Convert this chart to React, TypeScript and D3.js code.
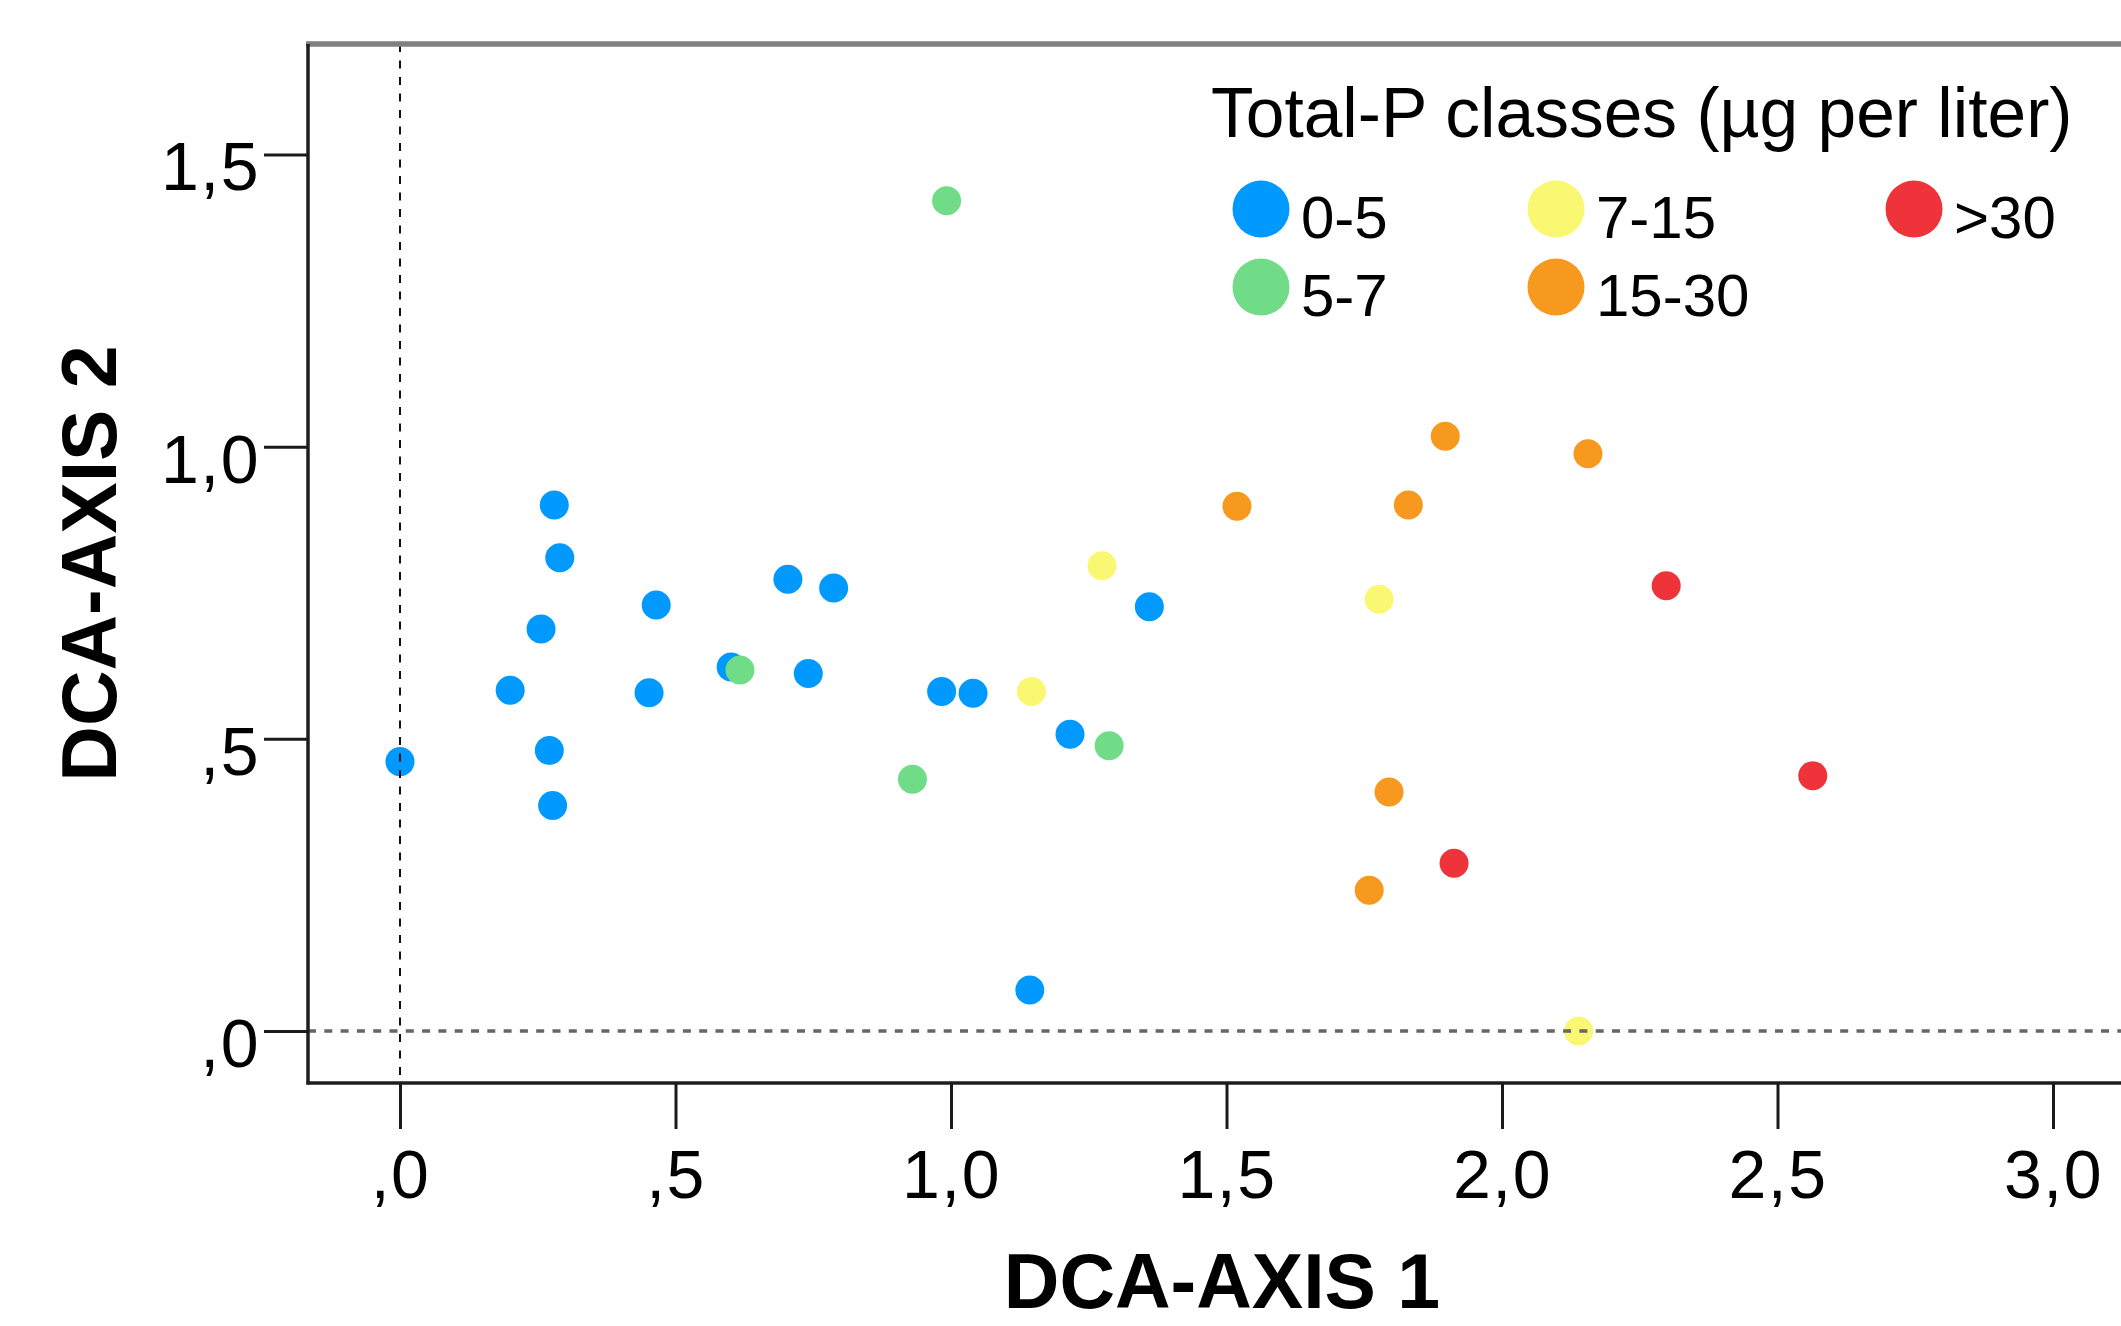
import React, { useRef, useEffect } from 'react';
import * as d3 from 'd3';

// Total-P classes (legend order)
const classLabels = ['0-5', '5-7', '7-15', '15-30', '>30'];
const classColors = ['#0099ff', '#70dc88', '#faf872', '#f7981f', '#ee333b'];

// [DCA axis 1, DCA axis 2] scores, one array per class
const tp0to5 = [
  [0.0, 0.461], [0.28, 0.9], [0.29, 0.81], [0.465, 0.729], [0.256, 0.688],
  [0.2, 0.583], [0.271, 0.48], [0.277, 0.386], [0.452, 0.579], [0.601, 0.623],
  [0.704, 0.773], [0.787, 0.758], [0.741, 0.612], [0.983, 0.581], [1.04, 0.578],
  [1.216, 0.508], [1.36, 0.726], [1.143, 0.07],
];
const tp5to7 = [[0.992, 1.421], [0.617, 0.618], [0.93, 0.431], [1.287, 0.488]];
const tp7to15 = [[1.274, 0.796], [1.146, 0.581], [1.777, 0.739], [2.139, 0.0]];
const tp15to30 = [
  [1.519, 0.898], [1.897, 1.018], [2.156, 0.988], [1.83, 0.9], [1.795, 0.409], [1.759, 0.241],
];
const tpOver30 = [[2.298, 0.762], [2.564, 0.437], [1.913, 0.287]];
const classPoints = [tp0to5, tp5to7, tp7to15, tp15to30, tpOver30];

const xTicks = [0, 0.5, 1, 1.5, 2, 2.5, 3];
const yTicks = [0, 0.5, 1, 1.5];

const xTitle = 'DCA-AXIS 1';
const yTitle = 'DCA-AXIS 2';
const legendTitle = 'Total-P classes (µg per liter)';

const FONT = '"Liberation Sans", Arial, Helvetica, sans-serif';

const App = () => {
  const d3Container = useRef(null);

  useEffect(() => {
    const svg = d3.select(d3Container.current);
    svg.selectAll('*').remove();

    const frame = { left: 308, right: 2136, top: 44, bottom: 1083 };

    // Scales
    const x = d3.scaleLinear().domain([0, 3]).range([400, 2053]);
    const y = d3.scaleLinear().domain([0, 1.5]).range([1031, 154.5]);

    // SPSS style labels: ",5" "1,0"
    const fmt = (d) =>
      d3.format('.1f')(d).replace(/^0\./, '.').replace('.', ',');

    // points
    classPoints.forEach((pts, i) => {
      svg
        .append('g')
        .selectAll('circle')
        .data(pts)
        .enter()
        .append('circle')
        .attr('cx', (d) => x(d[0]))
        .attr('cy', (d) => y(d[1]))
        .attr('r', 14.5)
        .attr('fill', classColors[i]);
    });

    // reference lines at zero (drawn above the points)
    svg
      .append('line')
      .attr('x1', x(0))
      .attr('x2', x(0))
      .attr('y1', frame.top)
      .attr('y2', frame.bottom)
      .attr('stroke', '#111')
      .attr('stroke-width', 2)
      .attr('stroke-dasharray', '8 8.5');
    svg
      .append('line')
      .attr('x1', frame.left)
      .attr('x2', frame.right)
      .attr('y1', y(0))
      .attr('y2', y(0))
      .attr('stroke', '#666')
      .attr('stroke-width', 3.5)
      .attr('stroke-dasharray', '8 8.3');

    // frame
    svg
      .append('line')
      .attr('x1', frame.left - 2)
      .attr('x2', frame.right + 4)
      .attr('y1', frame.top)
      .attr('y2', frame.top)
      .attr('stroke', '#808080')
      .attr('stroke-width', 5.5);
    svg
      .append('line')
      .attr('x1', frame.left)
      .attr('x2', frame.left)
      .attr('y1', frame.top)
      .attr('y2', frame.bottom + 1.5)
      .attr('stroke', '#1e1e1e')
      .attr('stroke-width', 3.5);
    svg
      .append('line')
      .attr('x1', frame.left - 1.5)
      .attr('x2', frame.right)
      .attr('y1', frame.bottom)
      .attr('y2', frame.bottom)
      .attr('stroke', '#1e1e1e')
      .attr('stroke-width', 3.5);

    // Axes
    const xAxisGroup = svg
      .append('g')
      .attr('transform', `translate(0, ${frame.bottom})`)
      .call(d3.axisBottom(x).tickValues(xTicks).tickFormat(fmt).tickSize(46).tickPadding(21));
    const yAxisGroup = svg
      .append('g')
      .attr('transform', `translate(${frame.left}, 0)`)
      .call(d3.axisLeft(y).tickValues(yTicks).tickFormat(fmt).tickSize(44).tickPadding(4));

    [xAxisGroup, yAxisGroup].forEach((g) => {
      g.select('.domain').remove();
      g.attr('font-family', FONT).attr('font-size', 68);
      g.selectAll('line').attr('stroke', '#1a1a1a').attr('stroke-width', 3);
      g.selectAll('text').attr('fill', '#000').attr('letter-spacing', 1.5);
    });
    yAxisGroup.selectAll('text').attr('dy', '0.52em');

    // axis titles
    svg
      .append('text')
      .attr('x', (frame.left + frame.right) / 2)
      .attr('y', 1308)
      .attr('text-anchor', 'middle')
      .attr('font-family', FONT)
      .attr('font-weight', 'bold')
      .attr('font-size', 77)
      .text(xTitle);
    svg
      .append('text')
      .attr('transform', `translate(116, ${(frame.top + frame.bottom) / 2}) rotate(-90)`)
      .attr('text-anchor', 'middle')
      .attr('font-family', FONT)
      .attr('font-weight', 'bold')
      .attr('font-size', 77)
      .text(yTitle);

    // legend
    const legend = svg.append('g').attr('font-family', FONT);
    legend
      .append('text')
      .attr('x', 1211)
      .attr('y', 137)
      .attr('font-size', 69.5)
      .text(legendTitle);

    const colX = [1261, 1556, 1914];
    const rowY = [209, 287];
    const items = legend
      .selectAll('g.item')
      .data(classLabels)
      .enter()
      .append('g')
      .attr('class', 'item')
      .attr('transform', (d, i) => `translate(${colX[Math.floor(i / 2)]}, ${rowY[i % 2]})`);
    items
      .append('circle')
      .attr('r', 28.5)
      .attr('fill', (d, i) => classColors[i]);
    items
      .append('text')
      .attr('x', 40)
      .attr('y', 28.5)
      .attr('font-size', 60)
      .text((d) => d);
  }, []);

  return (
    <svg
      ref={d3Container}
      width={2121}
      height={1326}
      style={{ position: 'absolute', left: 0, top: 0, background: '#fff', display: 'block' }}
    />
  );
};

export default App;
